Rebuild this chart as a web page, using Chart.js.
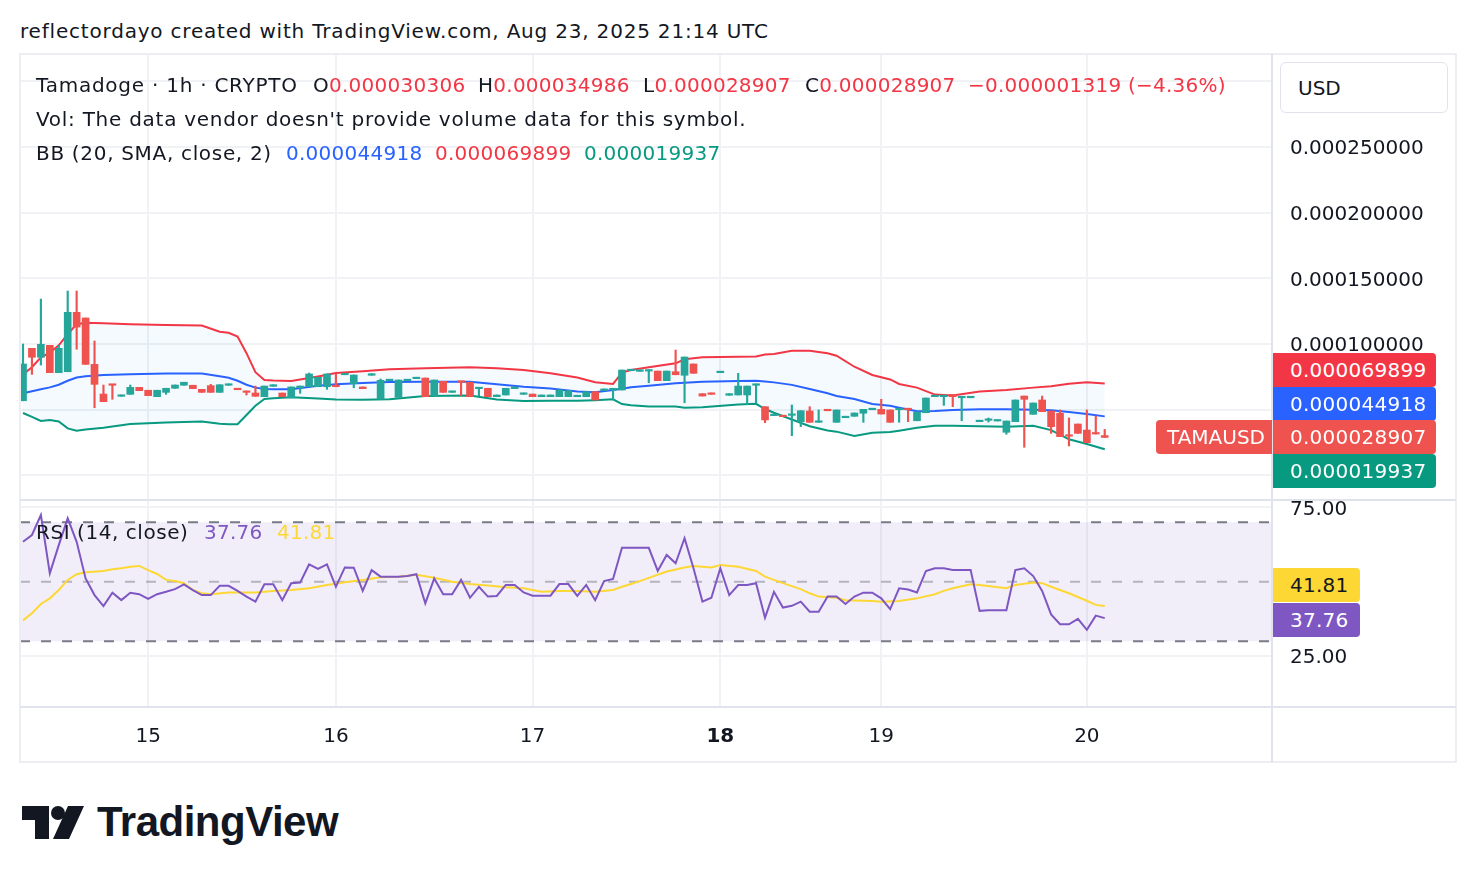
<!DOCTYPE html>
<html><head><meta charset="utf-8">
<script src="https://cdn.jsdelivr.net/npm/chart.js@4.4.1/dist/chart.umd.min.js"></script>
<style>
body{margin:0;background:#fff;width:1476px;height:882px;overflow:hidden;position:relative;font-family:"DejaVu Sans",sans-serif;color:#131722}
.t{position:absolute;font-size:20px;line-height:24px;white-space:nowrap;z-index:5}
.w{letter-spacing:0.75px}
.ln{position:absolute;background:#E0E3EB;z-index:4}
.box{position:absolute;font-size:20px;line-height:34px;height:34px;color:#fff;padding-left:17px;box-sizing:border-box;border-radius:0 4px 4px 0;z-index:6;white-space:nowrap}
canvas{position:absolute}
.r{color:#F23645}
.n{letter-spacing:0.25px}
</style></head>
<body>
<div class="t" style="left:20px;top:19px;letter-spacing:0.8px">reflectordayo created with TradingView.com, Aug 23, 2025 21:14 UTC</div>

<canvas id="pc" width="1436" height="445" style="left:20px;top:55px"></canvas>
<canvas id="rc" width="1436" height="262" style="left:20px;top:500px"></canvas>

<!-- frame and separators -->
<div class="ln" style="left:19px;top:53px;width:1438px;height:2px;background:#EDEEF1"></div>
<div class="ln" style="left:1455px;top:53px;width:2px;height:710px;background:#EDEEF1"></div>
<div class="ln" style="left:19px;top:761px;width:1438px;height:2px;background:#EDEEF1"></div>
<div class="ln" style="left:19px;top:53px;width:2px;height:710px;background:#EDEEF1"></div>
<div class="ln" style="left:20px;top:499px;width:1436px;height:2px"></div>
<div class="ln" style="left:20px;top:706px;width:1436px;height:2px"></div>
<div class="ln" style="left:1271px;top:54px;width:2px;height:708px"></div>

<div class="t w" style="left:36px;top:73px">Tamadoge · 1h · CRYPTO</div>
<div class="t n" style="left:313px;top:73px">O<span class="r">0.000030306</span></div>
<div class="t n" style="left:478px;top:73px">H<span class="r">0.000034986</span></div>
<div class="t n" style="left:643px;top:73px">L<span class="r">0.000028907</span></div>
<div class="t n" style="left:805px;top:73px">C<span class="r">0.000028907</span></div>
<div class="t n r" style="left:968px;top:73px">−0.000001319 (−4.36%)</div>
<div class="t" style="left:36px;top:107px;letter-spacing:0.73px">Vol: The data vendor doesn't provide volume data for this symbol.</div>
<div class="t w" style="left:36px;top:141px;letter-spacing:0.68px">BB (20, SMA, close, 2)</div>
<div class="t n" style="left:286px;top:141px;color:#2962FF">0.000044918</div>
<div class="t n" style="left:435px;top:141px;color:#F23645">0.000069899</div>
<div class="t n" style="left:584px;top:141px;color:#089981">0.000019937</div>
<div class="t" style="left:36px;top:520px;letter-spacing:0.55px">RSI (14, close)</div>
<div class="t n" style="left:204px;top:520px;color:#7E57C2">37.76</div>
<div class="t n" style="left:277px;top:520px;color:#FDD835">41.81</div>

<div style="position:absolute;left:1280px;top:62px;width:168px;height:51px;border:1px solid #E0E3EB;border-radius:6px;box-sizing:border-box;background:#fff;z-index:6"></div>
<div class="t" style="left:1298px;top:76px;z-index:7">USD</div>

<div class="box n" style="left:1273px;top:353px;width:163px;background:#F23645">0.000069899</div>
<div class="box n" style="left:1273px;top:387px;width:163px;background:#2962FF">0.000044918</div>
<div class="box n" style="left:1273px;top:420px;width:163px;background:#EF5350">0.000028907</div>
<div class="box n" style="left:1273px;top:454px;width:163px;background:#089981">0.000019937</div>
<div class="box" style="left:1156px;top:420px;width:116px;background:#EF5350;border-radius:4px 0 0 4px;padding-left:11px">TAMAUSD</div>
<div class="box n" style="left:1273px;top:568px;width:87px;background:#FDD835;color:#131722">41.81</div>
<div class="box n" style="left:1273px;top:603px;width:87px;background:#7E57C2">37.76</div>

<svg style="position:absolute;left:22px;top:806px" width="62" height="33" viewBox="0 0 62 33">
  <path d="M0 0 H27 V33 H13 V14 H0 Z" fill="#131722"/>
  <circle cx="36" cy="7" r="7" fill="#131722"/>
  <path d="M46 0 H62 L47 33 H31 Z" fill="#131722"/>
</svg>
<div style="position:absolute;left:97px;top:798px;font-family:'Liberation Sans',sans-serif;font-weight:bold;font-size:42px;line-height:48px;color:#131722;letter-spacing:-0.5px">TradingView</div>

<script>
// ---------- data (prices in micro-USD, 1e-6) ----------
const dayTickIdx = [14, 35, 57, 78, 96, 119];
const dayLabels = ['15', '16', '17', '18', '19', '20'];
const priceTicks = [0, 50, 100, 150, 200, 250, 300];
const rsiTicks = [25, 75];
const rsiBands = [70, 50, 30];

const openP = [56.8,96.7,89.9,99.0,78.2,78.9,124.1,119.8,84.5,61.9,
69.3,60.2,61.7,67.0,64.8,59.9,63.2,66.3,68.6,68.6,
65.5,68.3,63.2,68.6,66.3,64.2,62.7,59.9,67.8,62.7,
59.1,66.7,67.5,67.5,67.5,68.0,76.6,69.8,67.3,76.2,
58.1,72.1,59.4,72.1,73.6,74.1,60.7,71.6,63.2,71.6,
70.9,66.0,66.3,59.9,61.2,66.0,61.7,61.9,59.9,59.9,
59.9,59.9,59.9,59.9,63.7,64.5,65.0,65.0,79.7,79.2,
79.4,79.4,72.1,78.9,76.2,84.8,62.2,62.7,78.2,61.0,
61.2,61.2,68.6,52.3,45.5,45.7,45.7,40.9,49.0,40.4,
50.3,40.4,43.9,45.0,47.3,50.0,50.3,49.8,50.0,51.1,
41.6,47.7,59.9,59.9,61.7,59.1,59.1,40.9,41.9,41.4,
32.8,40.9,60.4,46.5,57.4,49.0,47.3,30.7,39.1,34.5,
32.5,30.306];
const highP = [100.0,96.7,134.2,99.0,99.0,140.3,140.3,119.8,102.3,68.8,
69.3,61.2,68.8,67.0,64.8,64.8,66.3,68.8,70.9,68.6,
65.5,69.3,69.0,69.6,66.3,64.2,68.0,68.0,69.0,62.7,
67.3,68.0,77.9,74.7,77.2,77.4,77.7,76.4,67.3,77.4,
73.4,73.1,72.6,73.1,74.7,74.1,72.6,71.6,64.2,71.6,
70.9,67.0,66.3,61.2,66.3,67.3,62.7,61.9,61.2,61.2,
65.0,64.5,61.0,63.7,63.7,65.8,66.3,80.2,80.7,80.2,
80.4,79.4,79.4,95.4,90.1,84.8,62.2,62.7,79.2,62.2,
77.7,68.0,69.6,52.3,46.0,45.7,53.6,49.2,52.3,49.8,
50.3,49.8,45.0,47.5,50.3,51.1,57.9,49.8,51.1,51.1,
48.2,58.9,61.0,61.0,61.7,60.2,60.2,41.9,43.7,42.4,
41.4,57.4,60.4,55.1,60.4,49.0,49.8,43.7,39.1,49.8,
45.2,34.986];
const lowP = [56.8,76.9,84.0,78.2,78.2,78.9,96.0,84.5,51.5,56.1,
57.9,60.2,61.7,64.5,60.7,59.9,61.7,66.3,68.6,66.0,
63.2,63.2,63.2,68.6,65.2,61.2,60.2,59.9,67.8,59.9,
59.1,62.5,67.5,67.5,65.5,67.5,76.6,66.7,66.0,76.2,
58.1,72.1,59.4,72.1,73.6,59.9,60.7,63.2,63.2,60.7,
59.9,60.7,59.9,59.9,61.2,66.0,61.7,59.9,59.9,59.9,
59.9,59.9,59.9,59.9,57.4,64.5,57.9,65.0,79.7,79.2,
70.5,72.1,72.1,76.6,55.3,77.7,60.4,61.7,78.2,61.0,
61.2,53.8,54.9,40.1,45.5,44.7,30.2,37.1,40.4,40.4,
49.2,40.4,43.9,45.0,40.4,50.0,46.7,40.4,40.4,40.9,
41.6,47.7,59.9,53.3,52.3,41.6,59.1,40.9,40.6,41.4,
31.3,40.9,21.4,46.5,48.5,32.0,29.5,22.4,32.0,24.9,
31.5,28.907];
const closeP = [84.8,89.9,99.8,78.2,96.7,124.1,112.9,84.5,69.3,56.1,
68.6,61.2,67.0,64.5,60.7,64.8,66.3,68.8,70.9,66.0,
63.2,63.2,69.0,69.6,65.2,63.2,60.2,68.0,69.0,59.9,
67.3,68.0,77.2,74.7,77.2,67.5,77.7,76.4,66.0,77.4,
72.4,73.1,72.6,73.1,74.7,59.9,72.6,63.2,64.2,70.9,
59.9,67.0,59.9,61.2,66.3,67.3,62.7,59.9,61.2,61.2,
65.0,64.5,61.0,63.7,57.4,65.8,66.3,80.2,80.7,80.2,
80.4,72.1,79.4,76.6,90.1,77.7,60.4,61.7,79.2,62.2,
68.0,68.0,69.6,42.2,46.0,44.7,46.7,49.2,40.4,41.4,
49.2,49.8,45.0,47.5,50.3,51.1,46.7,40.4,51.1,50.0,
48.2,58.9,61.0,61.0,59.9,60.2,60.2,41.9,42.9,42.4,
41.4,57.4,57.9,55.1,48.5,37.1,29.5,29.8,32.0,24.9,
31.5,28.907];

const bbIdx = [0,1,2,3,4,5,6,7,9,12,16,20,22,23,24,25,26,27,28,30,33,35,38,41,45,50,53,56,59,62,64,66,67,68,70,73,74,76,80,82,83,84,86,88,90,91,93,95,97,98,100,102,104,107,110,113,115,117,119,121];
const bbUpper = [76.9,82.3,89.9,93.5,99.0,107.5,115.0,116.2,115.8,115.0,114.4,114.0,109.4,108.5,105.6,93.0,78.5,72.6,72.2,71.8,75.3,77.9,79.2,80.7,81.5,82.3,81.5,80.2,77.7,74.5,70.9,69.6,78.2,80.2,82.3,85.3,88.4,89.9,90.3,90.5,92.0,92.4,94.9,94.9,93.0,91.1,82.7,76.4,73.0,69.6,66.8,61.5,60.8,63.8,65.0,66.8,67.8,69.8,70.8,69.899];
const bbMiddle = [62.5,64.0,65.5,67.0,69.0,72.0,74.5,75.5,76.4,77.0,77.6,77.5,75.5,74.3,72.0,69.0,66.8,65.8,65.6,65.6,68.2,69.3,70.3,71.1,71.3,71.2,69.3,67.5,66.2,63.8,63.3,65.0,66.0,67.0,68.3,70.2,70.6,71.2,71.8,72.1,71.5,70.8,68.9,65.8,62.5,60.4,58.1,54.4,53.0,51.5,48.8,49.0,49.7,50.3,50.3,50.0,49.5,48.3,46.8,44.918];
const bbLower = [47.5,44.5,41.4,42.1,41.0,35.8,34.0,35.0,36.3,39.2,40.3,41.0,39.3,39.0,38.9,46.0,53.0,58.1,58.8,59.4,58.6,57.8,57.5,57.9,60.5,60.8,57.8,56.6,56.8,56.8,57.2,57.9,54.3,53.4,52.5,52.4,51.5,51.8,54.0,54.5,50.5,47.7,42.5,37.4,34.1,33.3,30.0,32.5,33.0,34.0,36.3,37.8,37.8,37.5,37.1,37.8,34.5,27.5,23.9,19.937];

const rsiVals = [63.4,65.7,72.4,52.8,62.3,71.3,63.4,51.1,45.5,41.8,
46.3,43.8,46.3,45.8,44.2,45.8,46.6,47.5,49.1,47.2,
45.5,45.5,48.6,48.6,46.9,45.0,43.3,49.1,49.1,43.8,
49.5,49.7,55.8,54.3,55.8,48.3,54.8,54.7,46.9,53.9,
51.7,51.7,51.7,51.9,52.5,42.7,51.1,45.8,45.8,50.6,
44.6,48.3,45.0,45.2,48.9,48.9,46.4,45.3,45.3,45.3,
49.2,49.2,45.2,48.9,43.8,50.2,50.9,61.4,61.4,61.4,
61.4,53.6,59.0,56.2,64.6,54.5,43.3,44.6,54.5,45.5,
48.9,48.9,49.5,37.9,46.6,41.3,41.9,43.3,39.9,39.9,
45.0,45.0,42.5,45.0,46.3,46.3,44.4,40.8,47.8,47.4,
46.4,53.6,54.5,54.5,53.9,53.9,53.9,40.2,40.4,40.4,
40.4,53.9,54.5,51.9,46.9,39.0,35.7,35.7,37.5,33.8,
38.6,37.76];
const rsiMaIdx = [0,1,2,3,4,5,6,7,9,10,11,12,13,14,15,16,17,18,19,20,21,23,26,28,30,32,34,36,38,40,42,44,46,48,50,52,54,56,58,60,62,64,66,67,68,69,70,72,74,75,77,78,80,82,83,85,87,88,89,91,92,95,96,98,100,102,103,104,106,107,110,111,113,114,115,117,119,120,121];
const rsiMaVals = [37.0,39.4,42.5,44.4,47.2,50.6,52.5,53.2,53.6,54.2,54.5,55.0,55.3,53.9,52.6,50.6,50.2,49.5,47.2,46.1,45.8,46.4,46.4,46.9,47.2,47.8,48.9,49.8,50.6,51.5,51.7,52.3,51.3,50.0,49.2,48.7,48.1,47.8,46.6,46.9,46.9,46.6,47.2,48.3,49.2,50.2,51.3,53.4,54.8,55.3,54.8,55.6,55.0,53.6,51.7,49.5,47.5,46.1,45.0,44.6,43.8,43.5,43.3,43.5,44.4,45.8,46.9,47.8,49.1,48.9,47.8,48.9,49.7,49.5,48.3,46.1,43.6,42.2,41.81];

// ---------- layout constants ----------
const X_MIN = -0.336, X_MAX = 139.71;
const P_MIN = -18.72, P_MAX = 319.94;
const R_MIN = 7.88, R_MAX = 77.46;
const FONT = '"DejaVu Sans", sans-serif';
const GRID = '#F0F2F5';
const UP = '#26A69A', DOWN = '#EF5350';

const candleColors = openP.map((o, i) => closeP[i] >= o ? UP : DOWN);
const wickData = openP.map((o, i) => ({x: i, y: [lowP[i], highP[i]]}));
const bodyData = openP.map((o, i) => ({x: i, y: [o, closeP[i]]}));
const pts = (idx, vals) => idx.map((x, k) => ({x, y: vals[k]}));
const noPad = s => { s.paddingTop = 0; s.paddingBottom = 0; s.paddingLeft = 0; s.paddingRight = 0; };

const xScaleCommon = {
  type: 'linear', min: X_MIN, max: X_MAX, offset: false,
  afterBuildTicks: s => { s.ticks = dayTickIdx.map(v => ({value: v})); },
  grid: {color: GRID, lineWidth: 2, drawTicks: false, offset: false},
  border: {display: false}
};

new Chart(document.getElementById('pc'), {
  type: 'bar',
  data: {datasets: [
    {type: 'line', data: pts(bbIdx, bbUpper), borderColor: '#F23645', borderWidth: 2, pointRadius: 0, tension: 0,
     fill: {target: 1, above: 'rgba(33,150,243,0.05)', below: 'rgba(33,150,243,0.05)'}, order: 5},
    {type: 'line', data: pts(bbIdx, bbLower), borderColor: '#089981', borderWidth: 2, pointRadius: 0, tension: 0, fill: false, order: 4},
    {type: 'line', data: pts(bbIdx, bbMiddle), borderColor: '#2962FF', borderWidth: 2, pointRadius: 0, tension: 0, fill: false, order: 3},
    {type: 'bar', data: wickData, backgroundColor: candleColors, barThickness: 1.5, grouped: false, order: 1},
    {type: 'bar', data: bodyData, backgroundColor: candleColors, barThickness: 7, minBarLength: 1.5, grouped: false, order: 0}
  ]},
  options: {
    responsive: false, animation: false, events: [],
    layout: {padding: 0, autoPadding: false},
    plugins: {legend: {display: false}, tooltip: {enabled: false}},
    scales: {
      x: Object.assign({}, xScaleCommon, {ticks: {display: false}, afterFit: s => { s.height = 0; noPad(s); }}),
      y: {
        position: 'right', min: P_MIN, max: P_MAX,
        afterBuildTicks: s => { s.ticks = priceTicks.map(v => ({value: v})); },
        afterFit: s => { s.width = 184; noPad(s); },
        grid: {color: GRID, lineWidth: 2, drawTicks: false},
        border: {display: false},
        ticks: {
          padding: 18, labelOffset: 2, color: '#131722', font: {family: FONT, size: 20},
          callback: v => (v >= 100 && v <= 250) ? (v / 1e6).toFixed(9) : ''
        }
      }
    }
  }
});

const bandLine = (lvl, color, order, fill) => ({
  type: 'line', data: [{x: X_MIN, y: lvl}, {x: X_MAX, y: lvl}],
  borderColor: color, borderWidth: 2, borderDash: [10, 11], pointRadius: 0, fill: fill, order
});

new Chart(document.getElementById('rc'), {
  type: 'line',
  data: {datasets: [
    bandLine(rsiBands[0], '#787B86', 6, {target: 2, above: 'rgba(126,87,194,0.1)', below: 'rgba(126,87,194,0.1)'}),
    bandLine(rsiBands[1], 'rgba(120,123,134,0.5)', 5, false),
    bandLine(rsiBands[2], '#787B86', 4, false),
    {data: pts(rsiMaIdx, rsiMaVals), borderColor: '#FDD835', borderWidth: 2, pointRadius: 0, tension: 0, fill: false, order: 2},
    {data: rsiVals.map((v, i) => ({x: i, y: v})), borderColor: '#7E57C2', borderWidth: 2, pointRadius: 0, tension: 0, fill: false, order: 1}
  ]},
  options: {
    responsive: false, animation: false, events: [],
    layout: {padding: 0, autoPadding: false},
    plugins: {legend: {display: false}, tooltip: {enabled: false}},
    scales: {
      x: Object.assign({}, xScaleCommon, {
        afterFit: s => { s.height = 55; noPad(s); },
        ticks: {
          padding: 18, color: '#131722', maxRotation: 0, autoSkip: false,
          font: ctx => ({family: FONT, size: 20, weight: ctx.index === 3 ? 'bold' : 'normal'}),
          callback: (v, i) => dayLabels[i]
        }
      }),
      y: {
        position: 'right', min: R_MIN, max: R_MAX,
        afterBuildTicks: s => { s.ticks = rsiTicks.map(v => ({value: v})); },
        afterFit: s => { s.width = 184; noPad(s); },
        grid: {color: GRID, lineWidth: 2, drawTicks: false},
        border: {display: false},
        ticks: {padding: 18, labelOffset: 2, color: '#131722', font: {family: FONT, size: 20}, callback: v => v.toFixed(2)}
      }
    }
  }
});
</script>
</body></html>
